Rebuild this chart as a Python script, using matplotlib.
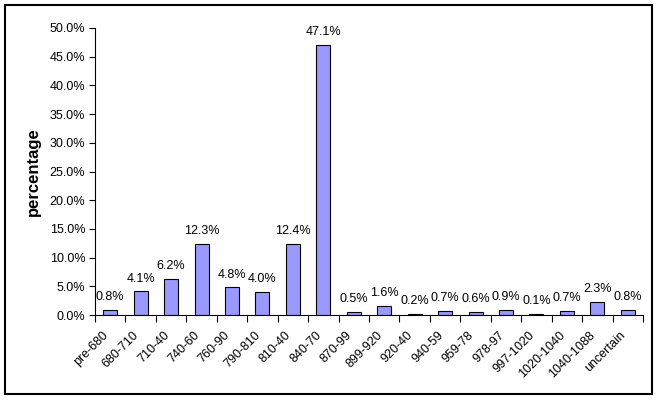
import numpy as np
import matplotlib.pyplot as plt
import matplotlib.transforms as mtransforms
from matplotlib.patches import Rectangle
from matplotlib.ticker import FuncFormatter

plt.rcParams['font.family'] = ['Liberation Sans', 'DejaVu Sans']

# data
periods = ['pre-680', '680-710', '710-40', '740-60', '760-90', '790-810',
           '810-40', '840-70', '870-99', '899-920', '920-40', '940-59',
           '959-78', '978-97', '997-1020', '1020-1040', '1040-1088', 'uncertain']
share = [0.8, 4.1, 6.2, 12.3, 4.8, 4.0, 12.4, 47.1, 0.5, 1.6,
         0.2, 0.7, 0.6, 0.9, 0.1, 0.7, 2.3, 0.8]

fig = plt.figure(figsize=(6.59, 4.0), dpi=100)
ax = fig.add_axes([95/659, 1-315/400, (643-95)/659, (315-28)/400])

x = np.arange(len(periods))
ax.bar(x, share, width=0.46, color='#9999FF', edgecolor='black', linewidth=0.8)
for xi, v in zip(x, share):
    ax.annotate('%.1f%%' % v, (xi, v), xytext=(0, 5), textcoords='offset points',
                ha='center', va='bottom', fontsize=9)

ax.set_xlim(-0.5, len(periods) - 0.5)
ax.set_ylim(0, 50)
ax.set_yticks(np.arange(0, 50.1, 5))
ax.yaxis.set_major_formatter(FuncFormatter(lambda v, p: '%.1f%%' % v))
ax.tick_params(axis='y', labelsize=9, length=4, direction='out', pad=3)

# excel style: ticks on the boundaries, labels on the centres
ax.set_xticks(np.arange(-0.5, len(periods), 1.0))
ax.set_xticklabels([])
ax.tick_params(axis='x', which='major', length=5, direction='out')
ax.set_xticks(x, minor=True)
ax.set_xticklabels(periods, minor=True, rotation=45, ha='right',
                   rotation_mode='anchor', fontsize=9)
ax.tick_params(axis='x', which='minor', length=0, pad=10)
shift = mtransforms.ScaledTranslation(-8/100, 0, fig.dpi_scale_trans)
for lab in ax.get_xticklabels(minor=True):
    lab.set_transform(lab.get_transform() + shift)

ax.spines['top'].set_visible(False)
ax.spines['right'].set_visible(False)
ax.set_ylabel('percentage', fontsize=12, fontweight='bold', labelpad=6)

fig.patches.append(Rectangle((5/659, 6/400), 647/659, 389/400, transform=fig.transFigure,
                             fill=False, edgecolor='black', linewidth=1.5))

plt.savefig('out.png', dpi=100)
